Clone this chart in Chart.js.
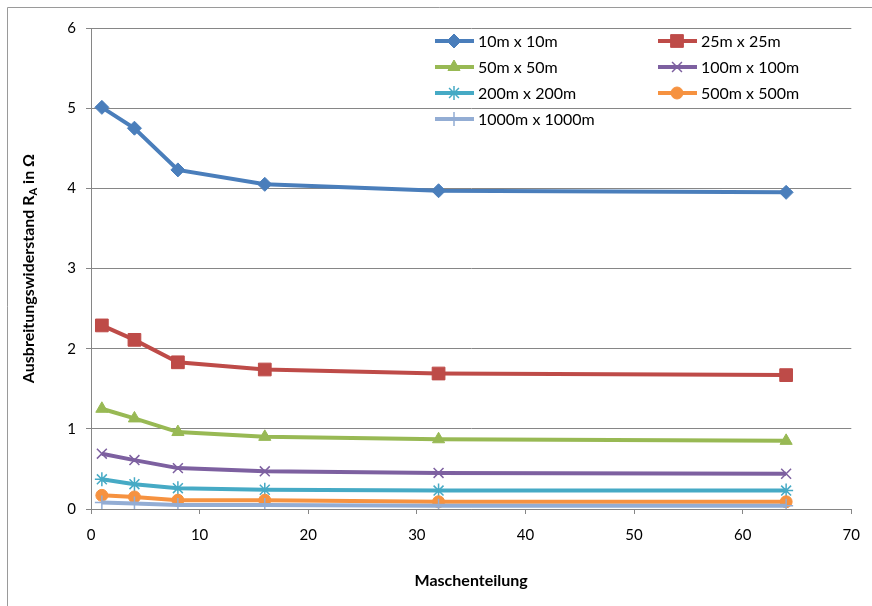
<!DOCTYPE html>
<html>
<head>
<meta charset="utf-8">
<script src="https://cdn.jsdelivr.net/npm/chart.js@4"></script>
<style>
  html, body { margin: 0; padding: 0; background: #fff; }
  #wrap { position: relative; width: 872px; height: 606px; }
</style>
</head>
<body>
<div id="wrap"><canvas id="chart" width="872" height="606"></canvas></div>
<script>
// Maschenteilung (x) and Ausbreitungswiderstand per grid size
const maschen = [1, 4, 8, 16, 32, 64];
const r10   = [5.01, 4.75, 4.23, 4.05, 3.97, 3.95];
const r25   = [2.29, 2.11, 1.83, 1.74, 1.69, 1.67];
const r50   = [1.25, 1.13, 0.96, 0.90, 0.87, 0.85];
const r100  = [0.69, 0.61, 0.51, 0.47, 0.45, 0.44];
const r200  = [0.37, 0.31, 0.26, 0.24, 0.23, 0.23];
const r500  = [0.17, 0.15, 0.11, 0.11, 0.09, 0.09];
const r1000 = [0.08, 0.07, 0.05, 0.05, 0.04, 0.04];

const labels = ['10m x 10m', '25m x 25m', '50m x 50m', '100m x 100m',
                '200m x 200m', '500m x 500m', '1000m x 1000m'];
const colors = ['#4A7EBB', '#BE4B48', '#98B954', '#7D60A0', '#46AAC5', '#F69240', '#93ADD4'];
const styles = ['rectRot', 'rect', 'triangle', 'crossRot', 'star', 'circle', 'cross'];
const radii  = [7, 9, 7, 7, 7, 6, 7];
const series = [r10, r25, r50, r100, r200, r500, r1000];

const FONT = 'Lato, "Open Sans", sans-serif';

const datasets = series.map((vals, i) => ({
    label: labels[i],
    data: vals.map((v, k) => ({ x: maschen[k], y: v })),
    borderColor: colors[i],
    backgroundColor: colors[i],
    pointBorderColor: colors[i],
    pointBackgroundColor: colors[i],
    pointStyle: styles[i],
    pointRadius: radii[i],
    pointBorderWidth: (styles[i] === 'crossRot' || styles[i] === 'star' || styles[i] === 'cross') ? 1.5 : 1,
    borderWidth: 4,
    tension: 0,
    order: 7 - i
}));

// frame, y title with subscript, two column legend
const extras = {
    id: 'extras',
    beforeDraw(chart) {
        const c = chart.ctx;
        c.save();
        c.strokeStyle = '#9a9a9a';
        c.lineWidth = 1;
        c.beginPath();
        c.moveTo(7.5, 606);
        c.lineTo(7.5, 7.5);
        c.lineTo(872, 7.5);
        c.stroke();
        c.restore();
    },
    afterDraw(chart) {
        const c = chart.ctx;
        const area = chart.chartArea;
        // y axis title
        c.save();
        c.translate(29, (area.top + area.bottom) / 2);
        c.rotate(-Math.PI / 2);
        c.fillStyle = '#000';
        c.textBaseline = 'middle';
        const big = 'bold 16px ' + FONT;
        const small = 'bold 11px ' + FONT;
        const p1 = 'Ausbreitungswiderstand R', p2 = 'A', p3 = ' in \u03A9';
        c.font = big;
        const w1 = c.measureText(p1).width, w3 = c.measureText(p3).width;
        c.font = small;
        const w2 = c.measureText(p2).width;
        let x = -(w1 + w2 + w3) / 2;
        c.font = big; c.fillText(p1, x, 0); x += w1;
        c.font = small; c.fillText(p2, x, 4); x += w2;
        c.font = big; c.fillText(p3, x, 0);
        c.restore();

        // legend
        const colX = [435, 658];
        const rowY = [41, 67, 93, 119];
        c.save();
        c.font = '16px ' + FONT;
        c.textBaseline = 'middle';
        datasets.forEach((ds, i) => {
            const lx = colX[i % 2], ly = rowY[Math.floor(i / 2)];
            c.strokeStyle = ds.borderColor;
            c.lineWidth = 4;
            c.beginPath();
            c.moveTo(lx, ly);
            c.lineTo(lx + 39, ly);
            c.stroke();
            c.fillStyle = ds.pointBackgroundColor;
            c.strokeStyle = ds.pointBorderColor;
            c.lineWidth = ds.pointBorderWidth;
            Chart.helpers.drawPoint(c, { pointStyle: ds.pointStyle, radius: ds.pointRadius, rotation: 0, borderWidth: ds.pointBorderWidth }, lx + 19, ly);
            c.fillStyle = '#000';
            c.fillText(ds.label, lx + 43, ly + 1);
        });
        c.restore();
    }
};

new Chart(document.getElementById('chart'), {
    type: 'line',
    data: { datasets },
    plugins: [extras],
    options: {
        responsive: false,
        animation: false,
        layout: { padding: { left: 16, right: 17, top: 28, bottom: 12 } },
        plugins: {
            legend: { display: false },
            tooltip: { enabled: false }
        },
        scales: {
            x: {
                type: 'linear',
                min: 0, max: 70,
                ticks: { stepSize: 10, color: '#000', font: { family: FONT, size: 15 }, padding: 12, maxRotation: 0 },
                grid: { drawOnChartArea: false, drawTicks: true, tickLength: 5, color: '#868686' },
                border: { color: '#868686', width: 1 },
                title: { display: true, text: 'Maschenteilung', color: '#000', font: { family: FONT, size: 16, weight: 'bold' }, padding: { top: 4, bottom: 4 } },
                afterFit(s) { s.height = 606 - 12 - 509; }
            },
            y: {
                min: 0, max: 6,
                ticks: { stepSize: 1, color: '#000', font: { family: FONT, size: 15 }, padding: 10 },
                grid: { color: '#868686', tickLength: 5 },
                border: { color: '#868686', width: 1 },
                afterFit(s) { s.width = 91 - 16; }
            }
        }
    }
});
</script>
</body>
</html>
